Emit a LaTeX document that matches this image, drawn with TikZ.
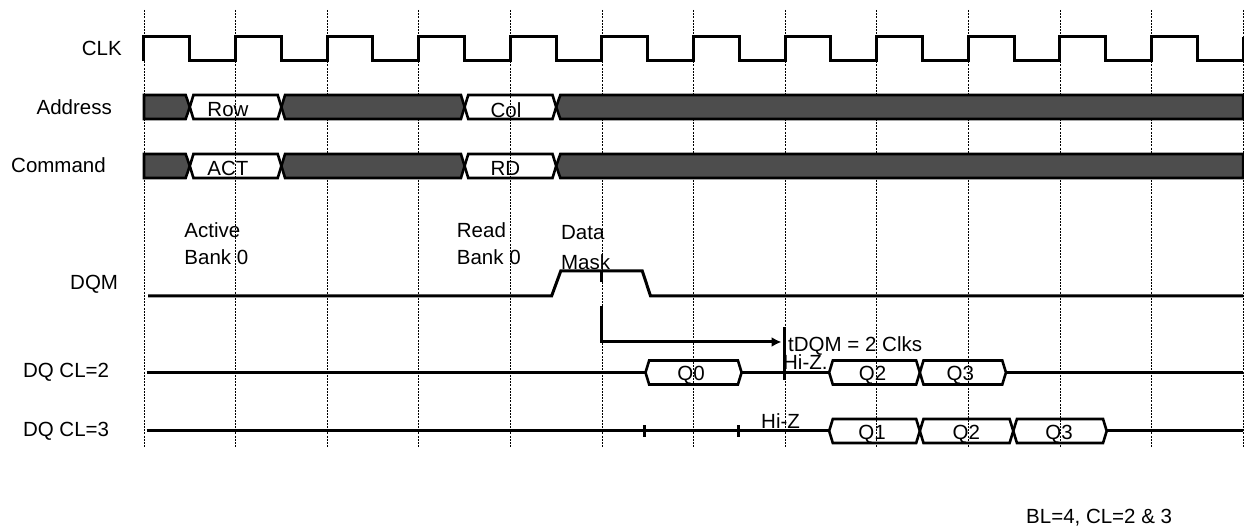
\documentclass[tikz,border=0pt]{standalone}
\usepackage{fontspec}
\setmainfont{Liberation Sans}
\usetikzlibrary{arrows.meta}

\definecolor{darkbus}{HTML}{4D4D4D}

\tikzset{
  sig/.style={line width=3pt},
  busline/.style={line width=2.6pt},
  clkgrid/.style={line width=0.8pt, dash pattern=on 2pt off 1.2pt},
  dark/.style={busline, fill=darkbus},
  lab/.style={inner sep=0pt, anchor=base east},
  note/.style={inner sep=0pt, anchor=base west, align=left},
  val/.style={inner sep=0pt, anchor=base}
}

% one valid value on a bus: #2 left tip, #3 right tip, #4 centre height
\newcommand{\hexval}[4][]{%
  \draw[busline,#1] (#2,#4) -- ({#2+0.04},{#4+12}) -- ({#3-0.04},{#4+12}) -- (#3,#4)
    -- ({#3-0.04},{#4-12}) -- ({#2+0.04},{#4-12}) -- cycle;}

\begin{document}
\begin{tikzpicture}[x=91.6pt, y=1pt, font=\fontsize{20.5}{27.3}\selectfont]

\useasboundingbox (-1.572,0) rectangle (12.009,528);

% clock edges
\foreach \k in {0,...,12}
  \draw[clkgrid] (\k,518) -- (\k,80);

\draw[sig] (0,467) foreach \k in {0,...,11} { -- (\k,491) -- ({\k+0.5},491) -- ({\k+0.5},467) -- ({\k+1},467) } -- (12,491);

% address and command buses
\foreach \y in {421,362} {
  \filldraw[dark] (0,\y+12) -- (0.455,\y+12) -- (0.5,\y) -- (0.455,\y-12) -- (0,\y-12) -- cycle;
  \hexval[dark]{1.5}{3.5}{\y}
  \filldraw[dark] (4.5,\y) -- (4.545,\y+12) -- (12,\y+12) -- (12,\y-12) -- (4.545,\y-12) -- cycle;
  \hexval{0.5}{1.5}{\y}
  \hexval{3.5}{4.5}{\y}
}

% DQM
\draw[sig] (0.045,232) -- (4.45,232) -- (4.55,257) -- (5.44,257) -- (5.53,232) -- (12,232);
\draw[sig] (5,257) -- (5,246);

\coordinate (maskstart) at (5,222);
\coordinate (maskend) at (6.96,186);
\draw[sig, -{Latex[length=10pt, width=10pt]}] (maskstart) |- (maskend);
\draw[sig] (6.99,201) -- (6.99,148);

% DQ, CL=2
\draw[sig] (0.03,155.5) -- (5.475,155.5);
\draw[sig] (6.524,155.5) -- (7.48,155.5);
\draw[sig] (9.41,155.5) -- (12,155.5);
\hexval{5.475}{6.524}{155.5}
\hexval{7.48}{8.47}{155.5}
\hexval{8.47}{9.41}{155.5}

% DQ, CL=3
\draw[sig] (0.03,97) -- (7.48,97);
\draw[sig] (10.51,97) -- (12,97);
\draw[sig] (5.467,91) -- (5.467,103);
\draw[sig] (6.488,91) -- (6.488,103);
\hexval{7.48}{8.47}{97}
\hexval{8.47}{9.49}{97}
\hexval{9.49}{10.51}{97}

% signal names
\node[lab] (clk) at (-0.24,472) {CLK};
\node[lab] (addr) at (-0.349,413) {Address};
\node[lab] (cmd) at (-0.415,355) {Command};
\node[lab] (dqm) at (-0.281,238) {DQM};
\node[lab] (dqa) at (-0.379,150) {DQ CL=2};
\node[lab] (dqb) at (-0.379,91) {DQ CL=3};

% values
\node[val] (row) at (0.917,411.3) {Row};
\node[val] (act) at (0.917,352.3) {ACT};
\node[val] (col) at (3.952,410.7) {Col};
\node[val] (rd) at (3.946,352.3) {RD};
\node[val] (qa0) at (5.972,147) {Q0};
\node[val] (qa2) at (7.954,147) {Q2};
\node[val] (qa3) at (8.912,147) {Q3};
\node[val] (qb1) at (7.948,88) {Q1};
\node[val] (qb2) at (8.977,88) {Q2};
\node[val] (qb3) at (9.991,88) {Q3};

% notes
\node[note] (actnote) at (0.44,263) {Active\\Bank 0};
\node[note] (rdnote) at (3.414,263) {Read\\Bank 0};
\node[note, font=\fontsize{20.5}{29.3}\selectfont] (masknote) at (4.552,258.7) {Data\\Mask};
\node[note] (tdqm) at (7.031,176.3) {tDQM = 2 Clks};
\node[note] (hiza) at (6.976,158) {Hi-Z.};
\node[note] (hizb) at (6.736,99.7) {Hi-Z};
\node[note] (blcl) at (9.629,4) {BL=4, CL=2 \& 3};

\end{tikzpicture}
\end{document}
